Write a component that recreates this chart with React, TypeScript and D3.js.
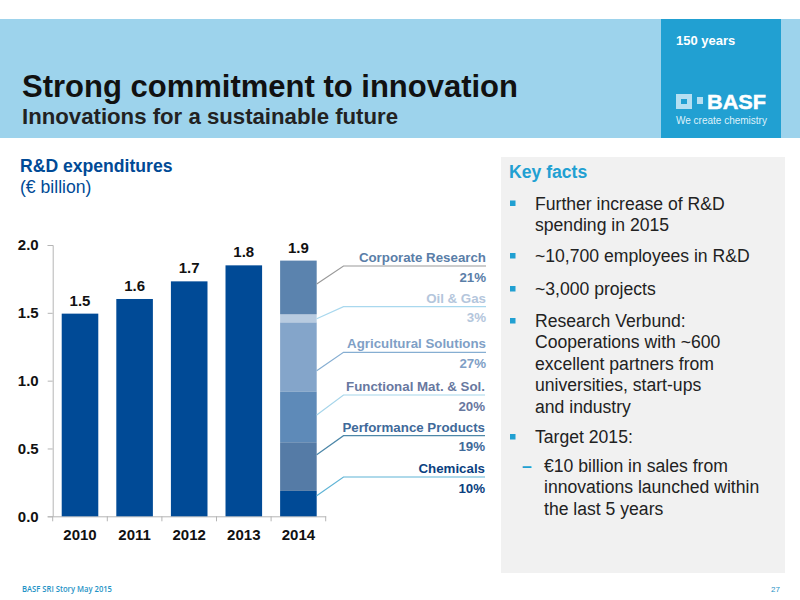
import React, { useRef, useEffect } from "react";
import * as d3 from "d3";

const years = ["2010", "2011", "2012", "2013", "2014"];
const totals = [1.494, 1.602, 1.732, 1.85, 1.885];
const totalLabels = ["1.5", "1.6", "1.7", "1.8", "1.9"];
const yTicks = [0, 0.5, 1, 1.5, 2];

// 2014 split, bottom to top
const segments = ["Chemicals", "Performance Products", "Functional Mat. & Sol.", "Agricultural Solutions", "Oil & Gas", "Corporate Research"];
const segmentValues = [0.187, 0.359, 0.375, 0.509, 0.059, 0.396];
const segmentShares = ["10%", "19%", "20%", "27%", "3%", "21%"];

const facts = [
  { sub: false, lines: ["Further increase of R&D", "spending in 2015"] },
  { sub: false, lines: ["~10,700 employees in R&D"] },
  { sub: false, lines: ["~3,000 projects"] },
  { sub: false, lines: ["Research Verbund:", "Cooperations with ~600", "excellent partners from", "universities, start-ups", "and industry"] },
  { sub: false, lines: ["Target 2015:"] },
  { sub: true, lines: ["€10 billion in sales from", "innovations launched within", "the last 5 years"] },
];

const FONT = "'Liberation Sans', Arial, sans-serif";
const NAVY = "#004a96";

const segmentFill = ["#004a96", "#557ba6", "#5e8ab8", "#84a5ca", "#b8cbe0", "#5b83ae"];
const segmentText = ["#0b3f80", "#3f6a9a", "#68789f", "#7f9fc6", "#b4c6dc", "#5a7ea8"];
const leaderColor = ["#5fb4d6", "#4d87a8", "#a6d5ea", "#86aed2", "#a9d8ee", "#9a9a9a"];
// callout geometry, same order as segments
const leaderY = [477, 435.7, 395, 352.3, 306.7, 266];
const leaderStartY = [495.7, 454.7, 415, 370.7, 318.7, 284];
const leaderRight = [485, 485, 485, 486, 486, 486];

const App: React.FC = () => {
  const svgRef = useRef<SVGSVGElement>(null);

  useEffect(() => {
    const svg = d3.select(svgRef.current);
    svg.selectAll("*").remove();
    svg.style("font-family", FONT);

    // header band
    svg.append("rect").attr("x", 0).attr("y", 19).attr("width", 800).attr("height", 119).attr("fill", "#9dd3ec");
    svg.append("rect").attr("x", 661).attr("y", 19).attr("width", 120).attr("height", 119).attr("fill", "#21a0d2");
    svg.append("text").attr("x", 676).attr("y", 45).attr("font-size", 13).attr("font-weight", "bold").attr("fill", "#fff").text("150 years");
    svg.append("rect").attr("x", 676).attr("y", 94).attr("width", 16).attr("height", 15).attr("fill", "#b5dff2");
    svg.append("rect").attr("x", 681).attr("y", 99).attr("width", 6).attr("height", 5).attr("fill", "#21a0d2");
    svg.append("rect").attr("x", 697).attr("y", 97).attr("width", 6).attr("height", 7).attr("fill", "#b5dff2");
    svg.append("text").attr("x", 707).attr("y", 109).attr("font-size", 21).attr("font-weight", "bold").attr("fill", "#fff").attr("stroke", "#fff").attr("stroke-width", 0.5).attr("textLength", 59).attr("lengthAdjust", "spacingAndGlyphs").text("BASF");
    svg.append("text").attr("x", 676).attr("y", 124).attr("font-size", 10).attr("fill", "#dff1fa").text("We create chemistry");

    svg.append("text").attr("x", 22).attr("y", 97).attr("font-size", 31).attr("font-weight", "bold").attr("fill", "#111").text("Strong commitment to innovation");
    svg.append("text").attr("x", 22).attr("y", 124).attr("font-size", 22.2).attr("font-weight", "bold").attr("fill", "#222").text("Innovations for a sustainable future");

    svg.append("text").attr("x", 20).attr("y", 172).attr("font-size", 17.6).attr("font-weight", "bold").attr("fill", NAVY).text("R&D expenditures");
    svg.append("text").attr("x", 20).attr("y", 193).attr("font-size", 17.6).attr("fill", NAVY).text("(€ billion)");

    // chart
    const x = d3.scaleBand().domain(years).range([52.7, 325.7]).paddingInner(0.33).paddingOuter(0.165);
    const y = d3.scaleLinear().domain([0, 2]).range([516.3, 245]);

    const xAxis = svg.append("g").attr("transform", `translate(0,${y(0)})`).call(d3.axisBottom(x).tickSize(0));
    xAxis.selectAll("text").attr("font-size", 15).attr("font-weight", "bold").attr("font-family", FONT).attr("fill", "#111").attr("dy", "1.35em");
    xAxis.select(".domain").attr("stroke", "#b5b5b5");
    const step = x.step();
    xAxis.selectAll("line.sep").data(d3.range(years.length + 1)).enter().append("line")
      .attr("class", "sep")
      .attr("x1", (i) => 52.7 + i * step).attr("x2", (i) => 52.7 + i * step)
      .attr("y1", 0).attr("y2", 5).attr("stroke", "#b5b5b5");

    const yAxis = svg.append("g").attr("transform", "translate(52.7,0)")
      .call(d3.axisLeft(y).tickValues(yTicks).tickFormat(d3.format(".1f")).tickSize(5).tickPadding(9));
    yAxis.selectAll("text").attr("font-size", 15).attr("font-weight", "bold").attr("font-family", FONT).attr("fill", "#111");
    yAxis.selectAll("line").attr("stroke", "#b5b5b5");
    yAxis.select(".domain").attr("stroke", "#b5b5b5");

    svg.append("g").selectAll("rect").data(years.slice(0, 4)).enter().append("rect")
      .attr("x", (d) => x(d)!).attr("width", x.bandwidth())
      .attr("y", (_, i) => y(totals[i])).attr("height", (_, i) => y(0) - y(totals[i]))
      .attr("fill", NAVY);

    let base = 0;
    const stacked = segmentValues.map((v) => {
      const s = { y0: base, y1: base + v };
      base += v;
      return s;
    });
    svg.append("g").selectAll("rect").data(stacked).enter().append("rect")
      .attr("x", x("2014")!).attr("width", x.bandwidth())
      .attr("y", (d) => y(d.y1)).attr("height", (d) => y(d.y0) - y(d.y1))
      .attr("fill", (_, i) => segmentFill[i]);

    svg.append("g").selectAll("text").data(totalLabels).enter().append("text")
      .attr("x", (_, i) => x(years[i])! + x.bandwidth() / 2)
      .attr("y", (_, i) => y(totals[i]) - 8)
      .attr("text-anchor", "middle").attr("font-size", 15).attr("font-weight", "bold").attr("fill", "#111")
      .text((d) => d);

    // callouts
    const barRight = x("2014")! + x.bandwidth();
    const callouts = svg.append("g");
    segments.forEach((name, i) => {
      const right = leaderRight[i];
      callouts.append("polyline")
        .attr("points", `${barRight},${leaderStartY[i]} 343.5,${leaderY[i]} ${right},${leaderY[i]}`)
        .attr("fill", "none").attr("stroke", leaderColor[i]).attr("stroke-width", 1.2);
      callouts.append("text").attr("x", right).attr("y", leaderY[i] - 4)
        .attr("text-anchor", "end").attr("font-size", 13.3).attr("font-weight", "bold").attr("fill", segmentText[i]).text(name);
      callouts.append("text").attr("x", right).attr("y", leaderY[i] + 15.5)
        .attr("text-anchor", "end").attr("font-size", 13.3).attr("font-weight", "bold").attr("fill", segmentText[i]).text(segmentShares[i]);
    });

    // key facts panel
    svg.append("rect").attr("x", 501).attr("y", 157).attr("width", 284).attr("height", 416).attr("fill", "#f1f1f1");
    svg.append("text").attr("x", 509).attr("y", 178).attr("font-size", 17.6).attr("font-weight", "bold").attr("fill", "#21a0d2").text("Key facts");

    const factBaselines = [209.5, 262, 295, 327, 443, 472];
    facts.forEach((f, i) => {
      const top = factBaselines[i];
      if (f.sub) {
        svg.append("text").attr("x", 522).attr("y", top).attr("font-size", 17.6).attr("font-weight", "bold").attr("fill", "#21a0d2").text("–");
      } else {
        svg.append("rect").attr("x", 510).attr("y", top - 9).attr("width", 5.5).attr("height", 5.5).attr("fill", "#21a0d2");
      }
      f.lines.forEach((line, j) => {
        svg.append("text").attr("x", f.sub ? 544 : 535).attr("y", top + j * 21.4)
          .attr("font-size", 17.6).attr("fill", "#222").text(line);
      });
    });

    // footer
    svg.append("text").attr("x", 22).attr("y", 592).attr("font-family", "'Open Sans', sans-serif").attr("font-size", 8.5).attr("font-weight", 600).attr("fill", "#1f93c6").attr("textLength", 90).attr("lengthAdjust", "spacingAndGlyphs").text("BASF SRI Story May 2015");
    svg.append("text").attr("x", 780).attr("y", 592).attr("text-anchor", "end").attr("font-size", 8).attr("fill", "#1f93c6").text("27");
  }, []);

  return (
    <svg
      ref={svgRef}
      width={800}
      height={600}
      style={{ position: "absolute", left: 0, top: 0, background: "#fff" }}
    />
  );
};

export default App;
